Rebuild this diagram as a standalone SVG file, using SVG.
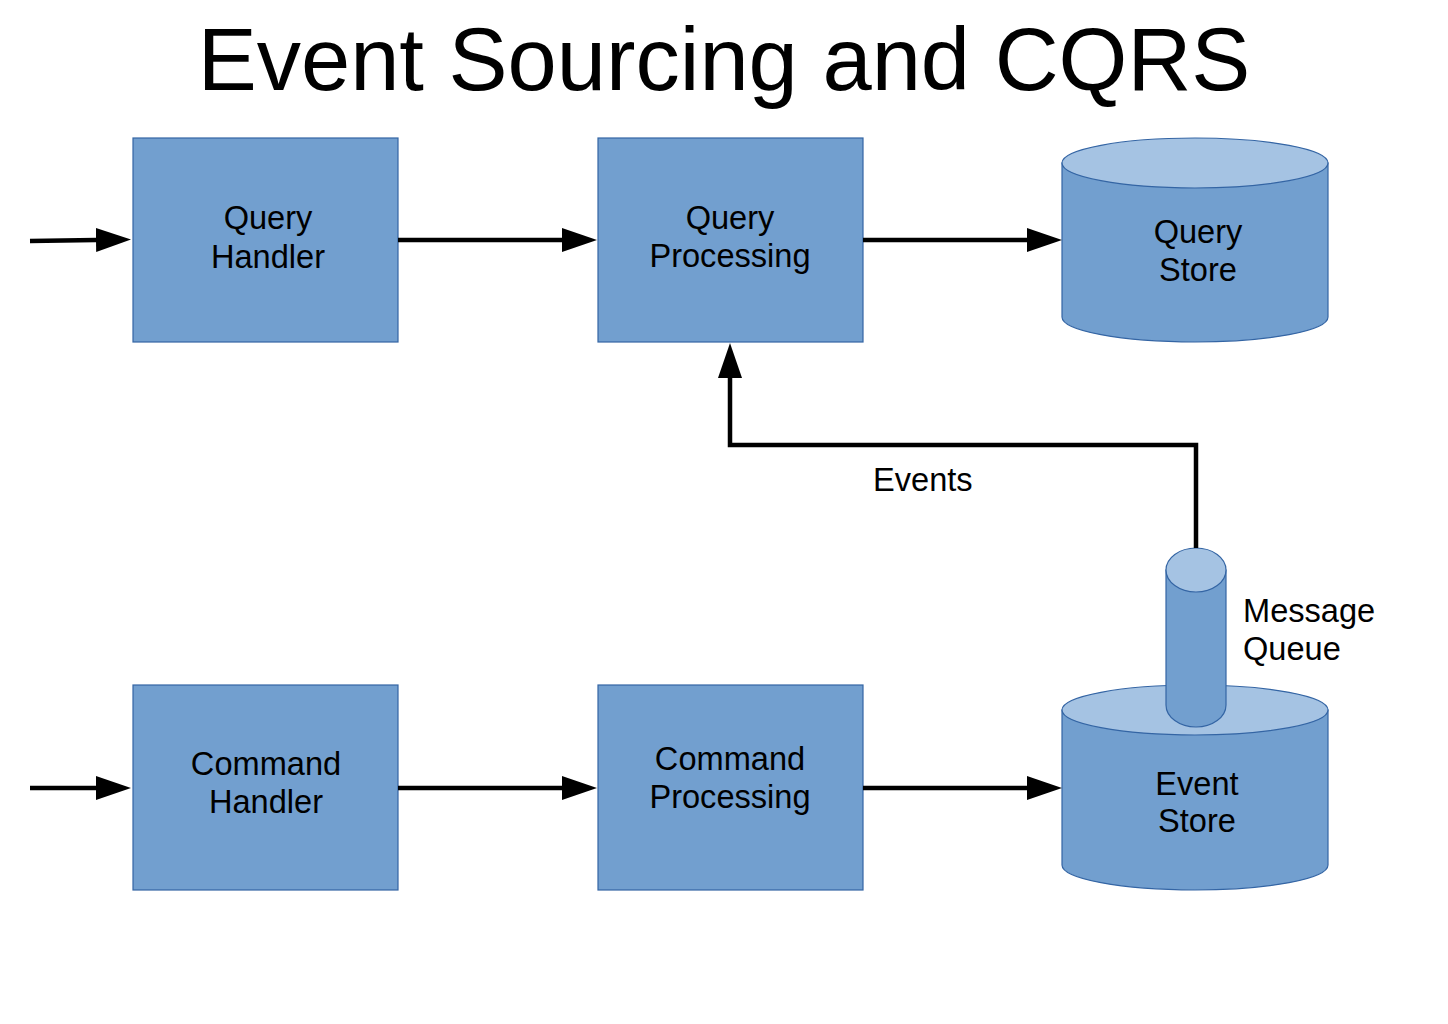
<svg xmlns="http://www.w3.org/2000/svg" width="1448" height="1024" viewBox="0 0 1448 1024">
<defs>
<style>
.box{fill:#729fcf;stroke:#3465a4;stroke-width:1.2}
.top{fill:#a5c3e3;stroke:#3465a4;stroke-width:1.2}
.lbl{font-family:"Liberation Sans",Arial,sans-serif;font-size:32.6px;fill:#000;text-anchor:middle}
.side{font-family:"Liberation Sans",Arial,sans-serif;font-size:32.6px;fill:#000}
.conn{fill:none;stroke:#000;stroke-width:4.5;marker-end:url(#ah)}
</style>
<marker id="ah" markerUnits="userSpaceOnUse" markerWidth="36" markerHeight="26" refX="0" refY="12" orient="auto">
<path d="M0,0 L35,12 L0,24 Z" fill="#000"/>
</marker>
</defs>
<rect width="1448" height="1024" fill="#fff"/>
<text x="724" y="90" font-family="'Liberation Sans',Arial,sans-serif" font-size="88.5" text-anchor="middle" fill="#000">Event Sourcing and CQRS</text>

<g id="query-handler">
<rect class="box" x="133" y="138" width="265" height="204"/>
<text class="lbl" x="268" y="229">Query</text>
<text class="lbl" x="268" y="268">Handler</text>
</g>
<g id="query-processing">
<rect class="box" x="598" y="138" width="265" height="204"/>
<text class="lbl" x="730" y="229">Query</text>
<text class="lbl" x="730" y="267">Processing</text>
</g>
<g id="query-store">
<path class="box" d="M1062,163 L1062,317 A133,25 0 0 0 1328,317 L1328,163 Z"/>
<ellipse class="top" cx="1195" cy="163" rx="133" ry="25"/>
<text class="lbl" x="1198" y="243">Query</text>
<text class="lbl" x="1198" y="281">Store</text>
</g>
<g id="command-handler">
<rect class="box" x="133" y="685" width="265" height="205"/>
<text class="lbl" x="266" y="775">Command</text>
<text class="lbl" x="266" y="813">Handler</text>
</g>
<g id="command-processing">
<rect class="box" x="598" y="685" width="265" height="205"/>
<text class="lbl" x="730" y="770">Command</text>
<text class="lbl" x="730" y="808">Processing</text>
</g>
<g id="event-store">
<path class="box" d="M1062,710 L1062,865 A133,25 0 0 0 1328,865 L1328,710 Z"/>
<ellipse class="top" cx="1195" cy="710" rx="133" ry="25"/>
<text class="lbl" x="1197" y="795">Event</text>
<text class="lbl" x="1197" y="832">Store</text>
</g>
<g id="message-queue">
<path class="box" d="M1166,570 L1166,705 A30,22 0 0 0 1226,705 L1226,570 Z"/>
<ellipse class="top" cx="1196" cy="570" rx="30" ry="22"/>
<text class="side" x="1243" y="622">Message</text>
<text class="side" x="1243" y="660">Queue</text>
</g>

<g id="connectors">
<path class="conn" d="M30,241 L96,240"/>
<path class="conn" d="M398,240 L562,240"/>
<path class="conn" d="M863,240 L1027,240"/>
<path class="conn" d="M30,788 L96,788"/>
<path class="conn" d="M398,788 L562,788"/>
<path class="conn" d="M863,788 L1027,788"/>
<path class="conn" d="M1196,548 L1196,445 L730,445 L730,378"/>
<text class="side" x="873" y="491">Events</text>
</g>
</svg>
